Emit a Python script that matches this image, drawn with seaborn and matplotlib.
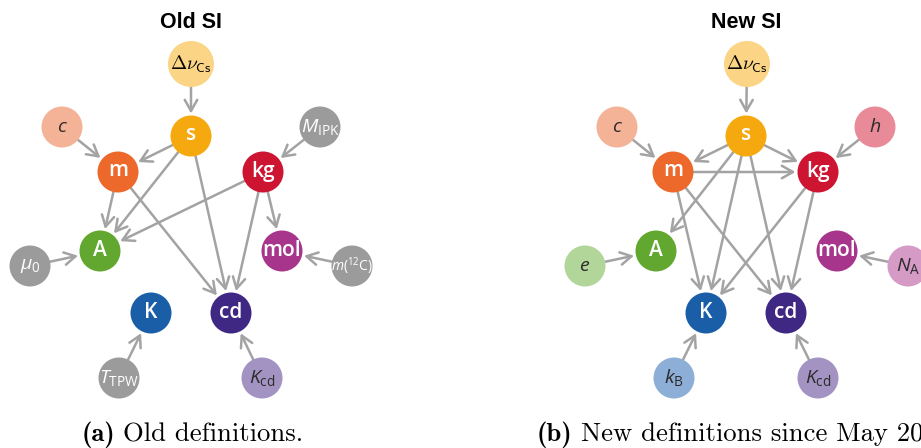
import pandas as pd
import matplotlib
matplotlib.use("Agg")
import matplotlib.pyplot as plt
import seaborn as sns

sns.set_theme(style="white")
plt.rcParams['font.family'] = ['Open Sans', 'DejaVu Sans']
plt.rcParams['mathtext.fontset'] = 'custom'
plt.rcParams['mathtext.rm'] = 'Open Sans'
plt.rcParams['mathtext.it'] = 'Open Sans:italic'
plt.rcParams['mathtext.bf'] = 'Open Sans:bold'

# nodes and their labels / colours
node_names = ['dnu', 's', 'm', 'kg', 'A', 'K', 'mol', 'cd',
              'c', 'MIPK', 'mu0', 'm12C', 'TTPW', 'Kcd', 'h', 'e', 'NA', 'kB']
node_labels = {
    'dnu': r'$\Delta\nu_{\mathsf{Cs}}$', 's': 's', 'm': 'm', 'kg': 'kg',
    'A': 'A', 'K': 'K', 'mol': 'mol', 'cd': 'cd',
    'c': r'$c$', 'MIPK': r'$M_\mathrm{IPK}$', 'mu0': r'$\mu_0$',
    'm12C': r'$m(^{12}\mathrm{C})$', 'TTPW': r'$T_\mathrm{TPW}$',
    'Kcd': r'$K_\mathrm{cd}$', 'h': r'$h$', 'e': r'$e$',
    'NA': r'$N_\mathrm{A}$', 'kB': r'$k_\mathrm{B}$',
}
node_colors = {
    'dnu': '#fbd585', 's': '#f6a80f', 'm': '#ec692b', 'kg': '#cd1431',
    'A': '#62a72f', 'K': '#1b5ea8', 'mol': '#a8358c', 'cd': '#3f2784',
    'c': '#f4b296', 'MIPK': '#9b9b9b', 'mu0': '#9b9b9b', 'm12C': '#9b9b9b',
    'TTPW': '#9b9b9b', 'Kcd': '#a293c2', 'h': '#e98a98', 'e': '#b2d69a',
    'NA': '#d59ac6', 'kB': '#8daed6',
}
dark_text = ['dnu', 'c', 'Kcd', 'h', 'e', 'NA', 'kB']
units = ['s', 'm', 'kg', 'A', 'K', 'mol', 'cd']

old_edges = [('dnu', 's'), ('c', 'm'), ('MIPK', 'kg'), ('s', 'm'), ('s', 'A'),
             ('s', 'cd'), ('m', 'A'), ('m', 'cd'), ('kg', 'A'), ('kg', 'cd'),
             ('kg', 'mol'), ('mu0', 'A'), ('m12C', 'mol'), ('TTPW', 'K'),
             ('Kcd', 'cd')]
new_edges = [('dnu', 's'), ('c', 'm'), ('h', 'kg'), ('s', 'm'), ('s', 'kg'),
             ('s', 'A'), ('s', 'K'), ('s', 'cd'), ('m', 'kg'), ('m', 'K'),
             ('m', 'cd'), ('kg', 'K'), ('kg', 'cd'), ('e', 'A'), ('NA', 'mol'),
             ('kB', 'K'), ('Kcd', 'cd')]

# layout (pixel coordinates of the page)
old_pos = {'dnu': (191, 64), 's': (191, 136), 'c': (62, 127), 'MIPK': (320, 127),
           'm': (118, 172), 'kg': (263, 172), 'A': (100, 251), 'mol': (282, 251),
           'mu0': (30, 266), 'm12C': (352, 266), 'K': (151, 313), 'cd': (231, 313),
           'TTPW': (119, 378), 'Kcd': (262, 378)}
new_pos = {'dnu': (747, 64), 's': (746, 136), 'c': (617, 127), 'h': (875, 127),
           'm': (673, 172), 'kg': (818, 172), 'A': (656, 251), 'mol': (837, 251),
           'e': (585, 266), 'NA': (908, 266), 'K': (706, 313), 'cd': (786, 313),
           'kB': (674, 378), 'Kcd': (818, 378)}

fig = plt.figure(figsize=(9.21, 4.48), dpi=100)
ax = fig.add_axes([0, 0, 1, 1])
ax.set_xlim(0, 921)
ax.set_ylim(448, 0)
ax.axis('off')

px = 72 / 100  # pixel -> point
gray = '#a3a3a3'


def radius(n):
    return 23 if n == 'dnu' else 20.5


def draw_panel(pos, edges):
    for a, b in edges:
        ax.annotate('', xy=pos[b], xytext=pos[a],
                    arrowprops=dict(arrowstyle='->,head_length=0.8,head_width=0.45',
                                    color=gray, lw=1.8, mutation_scale=10,
                                    shrinkA=radius(a) * px, shrinkB=(radius(b) + 2) * px),
                    zorder=1)
    df = pd.DataFrame({'node': list(pos.keys()),
                       'x': [p[0] for p in pos.values()],
                       'y': [p[1] for p in pos.values()]})
    df['kind'] = ['big' if n == 'dnu' else 'small' for n in df['node']]
    sns.scatterplot(data=df, x='x', y='y', hue='node', palette=node_colors,
                    size='kind', sizes={'big': (46 * px) ** 2, 'small': (41 * px) ** 2},
                    linewidth=0, legend=False, ax=ax, zorder=2)
    for n, (x, y) in pos.items():
        col = '#2b2b2b' if n in dark_text else 'white'
        if n == 'dnu':
            ax.text(x, y, node_labels[n], ha='center', va='center', fontsize=14,
                    color='black', math_fontfamily='cm', zorder=3)
        elif n in units:
            ax.text(x, y - 1, node_labels[n], ha='center', va='center', fontsize=15,
                    fontweight='semibold', color=col, zorder=3)
        else:
            fs = 10 if n == 'm12C' else 14
            ax.text(x, y, node_labels[n], ha='center', va='center', fontsize=fs,
                    color=col, zorder=3)


draw_panel(old_pos, old_edges)
draw_panel(new_pos, new_edges)

ax.text(191, 23, 'Old SI', ha='center', va='center', fontsize=15.5,
        fontweight='bold', family='Liberation Sans', color='black')
ax.text(746, 23, 'New SI', ha='center', va='center', fontsize=15.5,
        fontweight='bold', family='Liberation Sans', color='black')

# captions: bold "(a)" + roman text, Computer Modern
renderer = fig.canvas.get_renderer()
gap = 8


def caption(x, bold, rest, center):
    t1 = ax.text(x, 441, bold, family='cmb10', fontsize=19.2, va='baseline',
                 ha='left', color='black')
    t2 = ax.text(x, 441, rest, family='cmr10', fontsize=19.2,
                 va='baseline', ha='left', color='black')
    w1 = t1.get_window_extent(renderer).width
    w2 = t2.get_window_extent(renderer).width
    x0 = x - (w1 + gap + w2) / 2 if center else x
    t1.set_x(x0)
    t2.set_x(x0 + w1 + gap)


caption(192, '(a)', 'Old definitions.', True)
caption(537, '(b)', 'New definitions since May 2019.', False)

fig.savefig('out.png', dpi=100)
